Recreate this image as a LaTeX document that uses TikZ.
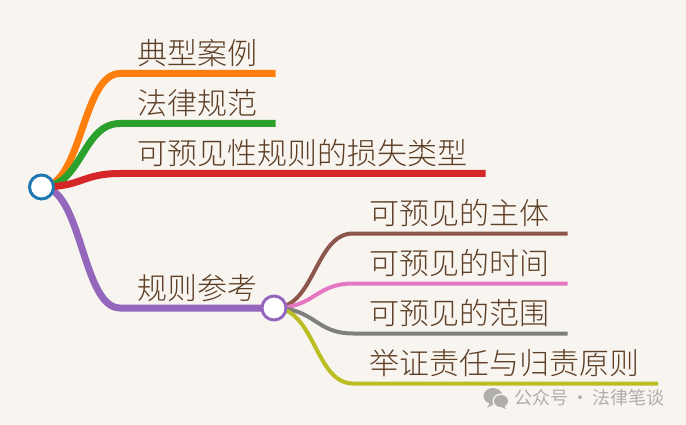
\documentclass[tikz,border=0pt]{standalone}
\usepackage{fontspec}
\setmainfont{Noto Sans CJK SC}[UprightFont=* Light]
\newfontfamily\wmfont{Noto Sans CJK SC}
\usetikzlibrary{backgrounds}
\definecolor{bgc}{HTML}{F8F5F1}
\definecolor{txtc}{HTML}{5E3F26}
\definecolor{c1}{HTML}{1F77B4}
\definecolor{c2}{HTML}{FF7F0E}
\definecolor{c3}{HTML}{2CA02C}
\definecolor{c4}{HTML}{D62728}
\definecolor{c5}{HTML}{9467BD}
\definecolor{c6}{HTML}{8C564B}
\definecolor{c7}{HTML}{E377C2}
\definecolor{c8}{HTML}{7F7F7F}
\definecolor{c9}{HTML}{BCBD22}
\definecolor{wm}{HTML}{B0AEAB}
\tikzset{
  hub/.style={circle,draw=#1,fill=white,line width=3pt,minimum size=24pt,inner sep=0pt},
  lab/.style={anchor=west,inner sep=0pt,text=txtc,font=\fontsize{30pt}{31pt}\selectfont},
  main/.style={draw=#1,line width=7pt,line cap=butt},
  sub/.style={draw=#1,line width=4pt,line cap=butt}
}
\begin{document}
\begin{tikzpicture}[x=1pt,y=-1pt]
\useasboundingbox (0,0) rectangle (686,425);
\node[hub=c1] (root) at (41.5,187) {};
\node[hub=c5] (rule) at (274,308) {};
\node[lab] (t1) at (137.5,53) {典型案例};
\node[lab] (t2) at (137.5,103) {法律规范};
\node[lab] (t3) at (137.5,153) {可预见性规则的损失类型};
\node[lab] (t4) at (137.5,288) {规则参考};
\node[lab] (t5) at (369.5,213) {可预见的主体};
\node[lab] (t6) at (369.5,263) {可预见的时间};
\node[lab] (t7) at (369.5,313) {可预见的范围};
\node[lab] (t8) at (369.5,363) {举证责任与归责原则};
\coordinate (a1) at (120,73.5);  \coordinate (b1) at (275.5,73.5);
\coordinate (a2) at (120,123.5); \coordinate (b2) at (275.5,123.5);
\coordinate (a3) at (120,173.5); \coordinate (b3) at (485.5,173.5);
\coordinate (a4) at (120,308);
\coordinate (a5) at (353,233.5); \coordinate (b5) at (567.5,233.5);
\coordinate (a6) at (353,283.5); \coordinate (b6) at (567.5,283.5);
\coordinate (a7) at (353,333.5); \coordinate (b7) at (567.5,333.5);
\coordinate (a8) at (353,383.5); \coordinate (b8) at (658,383.5);
\begin{scope}[on background layer]
\fill[bgc] (0,0) rectangle (686,425);
\path[main=c5] (root.center) .. controls (82,187) and (82,308) .. (a4) -- (rule.center);
\path[main=c2] (root.center) .. controls (82,187) and (82,73.5) .. (a1) -- (b1);
\path[main=c3] (root.center) .. controls (82,187) and (82,123.5) .. (a2) -- (b2);
\path[main=c4] (root.center) .. controls (82,187) and (82,173.5) .. (a3) -- (b3);
\path[sub=c6] (rule.center) .. controls (315,308) and (315,233.5) .. (a5) -- (b5);
\path[sub=c7] (rule.center) .. controls (315,308) and (315,283.5) .. (a6) -- (b6);
\path[sub=c8] (rule.center) .. controls (315,308) and (315,333.5) .. (a7) -- (b7);
\path[sub=c9] (rule.center) .. controls (315,308) and (315,383.5) .. (a8) -- (b8);
\end{scope}
% watermark
\fill[wm] (493,396) ellipse (9.5pt and 8pt);
\fill[wm] (490,403) -- (487,408) -- (494,404) -- cycle;
\fill[bgc] (501,401) ellipse (8.5pt and 7.5pt);
\fill[wm] (501,401) ellipse (7pt and 6pt);
\fill[wm] (504,405) -- (506,409) -- (500,406.5) -- cycle;
\node[anchor=west,inner sep=0pt,text=wm,font=\wmfont\fontsize{18pt}{19pt}\selectfont] (wmk) at (514,398) {公众号\hspace{3pt}·\hspace{3pt}法律笔谈};
\end{tikzpicture}
\end{document}
